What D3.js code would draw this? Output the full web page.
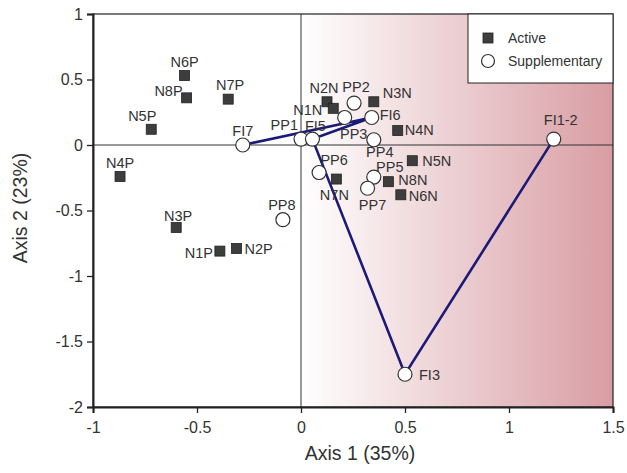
<!DOCTYPE html>
<html><head><meta charset="utf-8">
<script src="https://cdn.jsdelivr.net/npm/d3@7"></script>
<style>body{margin:0;background:#fff}svg{display:block;font-family:"Liberation Sans",Arial,sans-serif}</style>
</head><body><svg id="c" width="627" height="473"></svg>
<script>
// Active variables
const activeNames = ["N6P","N8P","N7P","N5P","N4P","N3P","N1P","N2P","N2N","N1N","N3N","N4N","N5N","N8N","N6N","N7N"];
const activeX = [-0.56,-0.55,-0.35,-0.72,-0.87,-0.60,-0.39,-0.31,0.125,0.155,0.35,0.465,0.535,0.42,0.48,0.17];
const activeY = [0.53,0.36,0.35,0.12,-0.24,-0.63,-0.81,-0.79,0.33,0.28,0.33,0.11,-0.12,-0.28,-0.38,-0.26];
// Supplementary variables
const suppNames = ["FI7","PP1","FI5","PP2","PP3","FI6","PP4","PP5","PP7","PP6","PP8","FI3","FI1-2"];
const suppX = [-0.28,0.0,0.055,0.255,0.21,0.34,0.35,0.35,0.32,0.087,-0.087,0.50,1.215];
const suppY = [0.0,0.045,0.045,0.32,0.21,0.21,0.04,-0.245,-0.33,-0.21,-0.57,-1.75,0.045];
// Connecting path (fishing intensity sites)
const pathNames = ["FI7","FI6","FI5","FI3","FI1-2"];
const xTicks = [-1,-0.5,0,0.5,1,1.5];
const yTicks = [1,0.5,0,-0.5,-1,-1.5,-2];

// label offsets (layout only): dx, dy (baseline), anchor
const labelOff = {
  "N6P":[0,-9,"middle"],"N8P":[-4,-2,"end"],"N7P":[2,-9,"middle"],"N5P":[-9,-8,"middle"],
  "N4P":[0,-8,"middle"],"N3P":[2,-7,"middle"],"N1P":[-7,7,"end"],"N2P":[8,6,"start"],
  "N2N":[-3,-9,"middle"],"N1N":[-11,7,"end"],"N3N":[9,-4,"start"],"N4N":[7,4,"start"],
  "N5N":[10,5,"start"],"N8N":[10,3,"start"],"N6N":[8,6,"start"],"N7N":[-2,21,"middle"],
  "FI7":[0,-9,"middle"],"PP1":[-3,-9,"end"],"FI5":[3,-8,"middle"],"PP2":[2,-11,"middle"],
  "PP3":[9,22,"middle"],"FI6":[8,3,"start"],"PP4":[6,17,"middle"],"PP5":[16,-5,"middle"],
  "PP7":[5,22,"middle"],"PP6":[15,-8,"middle"],"PP8":[-1,-10,"middle"],"FI3":[14,6,"start"],
  "FI1-2":[7,-14,"middle"]
};

const svg = d3.select("#c");
const x = d3.scaleLinear().domain([-1,1.5]).range([93,613]);
const y = d3.scaleLinear().domain([-2,1]).range([407,14]);

const defs = svg.append("defs");
const g = defs.append("linearGradient").attr("id","grad").attr("x1","0").attr("x2","1").attr("y1","0").attr("y2","0");
g.append("stop").attr("offset","0%").attr("stop-color","#ffffff");
g.append("stop").attr("offset","100%").attr("stop-color","#d89da3");

svg.append("rect").attr("x",x(0)).attr("y",y(1)).attr("width",x(1.5)-x(0)).attr("height",y(-2)-y(1)).attr("fill","url(#grad)");

// zero lines
svg.append("line").attr("x1",x(0)).attr("x2",x(0)).attr("y1",y(1)).attr("y2",y(-2)).attr("stroke","#333").attr("stroke-width",1);
svg.append("line").attr("x1",x(-1)).attr("x2",x(1.5)).attr("y1",y(0)).attr("y2",y(0)).attr("stroke","#333").attr("stroke-width",1);

// frame
svg.append("rect").attr("x",x(-1)).attr("y",y(1)).attr("width",x(1.5)-x(-1)).attr("height",y(-2)-y(1)).attr("fill","none").attr("stroke","#222").attr("stroke-width",1.2);

// axes
const xAxis = svg.append("g").attr("transform",`translate(0,${y(-2)})`)
  .call(d3.axisBottom(x).tickValues(xTicks).tickFormat(d=>String(d)).tickSizeOuter(0).tickSize(6));
const yAxis = svg.append("g").attr("transform",`translate(${x(-1)},0)`)
  .call(d3.axisLeft(y).tickValues(yTicks).tickFormat(d=>String(d)).tickSizeOuter(0).tickSize(6));
[xAxis,yAxis].forEach(a=>{
  a.select(".domain").attr("stroke","#222").attr("stroke-width",2);
  a.selectAll(".tick line").attr("stroke","#222").attr("stroke-width",1.3);
  a.selectAll("text").attr("fill","#333").style("font-size","16px").style("font-family","'Liberation Sans',Arial,sans-serif");
});
xAxis.selectAll("text").attr("dy","1.05em");
yAxis.selectAll("text").attr("x",-10);

svg.append("text").attr("x",360).attr("y",460).attr("text-anchor","middle").attr("fill","#333").style("font-size","19.5px").text("Axis 1 (35%)");
svg.append("text").attr("transform","translate(27,208) rotate(-90)").attr("text-anchor","middle").attr("fill","#333").style("font-size","19.5px").text("Axis 2 (23%)");

// path
const suppMap = {};
suppNames.forEach((n,i)=>suppMap[n]=[suppX[i],suppY[i]]);
const line = d3.line().x(d=>x(suppMap[d][0])).y(d=>y(suppMap[d][1]));
svg.append("path").attr("d",line(pathNames)).attr("fill","none").attr("stroke","#1c1a78").attr("stroke-width",2.6);

// active squares
const sq = 10;
activeNames.forEach((n,i)=>{
  svg.append("rect").attr("x",x(activeX[i])-sq/2).attr("y",y(activeY[i])-sq/2).attr("width",sq).attr("height",sq)
    .attr("fill","#3d3d3d").attr("stroke","#222").attr("stroke-width",0.8);
});
// supp circles
suppNames.forEach((n,i)=>{
  svg.append("circle").attr("cx",x(suppX[i])).attr("cy",y(suppY[i])).attr("r",7)
    .attr("fill","#fff").attr("stroke","#333").attr("stroke-width",1.2);
});
// labels
const labelFont = "14.5px";
activeNames.forEach((n,i)=>{
  const o = labelOff[n];
  svg.append("text").attr("x",x(activeX[i])+o[0]).attr("y",y(activeY[i])+o[1]).attr("text-anchor",o[2])
    .attr("fill","#333").style("font-size",labelFont).text(n);
});
suppNames.forEach((n,i)=>{
  const o = labelOff[n];
  svg.append("text").attr("x",x(suppX[i])+o[0]).attr("y",y(suppY[i])+o[1]).attr("text-anchor",o[2])
    .attr("fill","#333").style("font-size",labelFont).text(n);
});

// legend
const lg = svg.append("g");
lg.append("rect").attr("x",468).attr("y",y(1)).attr("width",x(1.5)-468).attr("height",83-y(1)).attr("fill","#fff").attr("stroke","#222").attr("stroke-width",1);
lg.append("rect").attr("x",483).attr("y",33).attr("width",10).attr("height",10).attr("fill","#3d3d3d").attr("stroke","#222").attr("stroke-width",0.8);
lg.append("circle").attr("cx",488).attr("cy",61).attr("r",6.5).attr("fill","#fff").attr("stroke","#333").attr("stroke-width",1.2);
lg.append("text").attr("x",508).attr("y",43).attr("fill","#333").style("font-size","14px").text("Active");
lg.append("text").attr("x",508).attr("y",66).attr("fill","#333").style("font-size","14px").text("Supplementary");
</script></body></html>
